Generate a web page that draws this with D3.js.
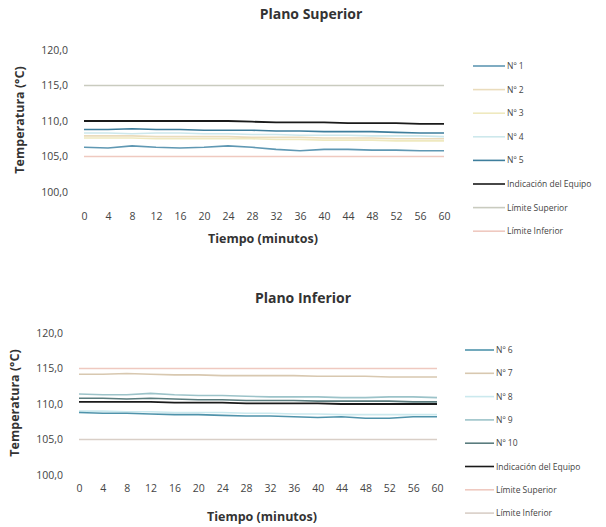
<!DOCTYPE html>
<html>
<head>
<meta charset="utf-8">
<script src="https://cdn.jsdelivr.net/npm/d3@7"></script>
<style>
  body { margin: 0; background: #fff; }
  svg text { font-family: "Open Sans", Lato, sans-serif; fill: #333; }
</style>
</head>
<body>
<svg id="chart" width="606" height="527"></svg>
<script>
// minutes sampled every 4
const minutes = [0, 4, 8, 12, 16, 20, 24, 28, 32, 36, 40, 44, 48, 52, 56, 60];
const yTicks = [100, 105, 110, 115, 120];

// Plano Superior
const supNames = ["Nº 1", "Nº 2", "Nº 3", "Nº 4", "Nº 5", "Indicación del Equipo", "Límite Superior", "Límite Inferior"];
const supColors = ["#5f98b3", "#eadcbc", "#efe9bf", "#cde8ec", "#3e7e9c", "#1a1a1a", "#c9cbbf", "#efc9c0"];
const sup1 = [106.3, 106.2, 106.5, 106.3, 106.2, 106.3, 106.5, 106.3, 106.0, 105.8, 106.0, 106.0, 105.9, 105.9, 105.8, 105.8];
const sup2 = [107.9, 107.9, 107.9, 107.8, 107.8, 107.8, 107.8, 107.7, 107.7, 107.7, 107.6, 107.6, 107.6, 107.5, 107.5, 107.5];
const sup3 = [107.6, 107.6, 107.6, 107.5, 107.5, 107.5, 107.5, 107.5, 107.4, 107.4, 107.3, 107.3, 107.3, 107.2, 107.2, 107.2];
const sup4 = [108.3, 108.3, 108.2, 108.3, 108.3, 108.2, 108.2, 108.1, 108.1, 108.0, 108.0, 108.0, 107.9, 107.9, 107.9, 107.8];
const sup5 = [108.8, 108.8, 108.9, 108.8, 108.8, 108.7, 108.7, 108.7, 108.6, 108.6, 108.5, 108.5, 108.5, 108.4, 108.3, 108.3];
const supInd = [110.0, 110.0, 110.0, 110.0, 110.0, 110.0, 110.0, 109.9, 109.8, 109.8, 109.8, 109.7, 109.7, 109.7, 109.6, 109.6];
const supLimSup = [115, 115, 115, 115, 115, 115, 115, 115, 115, 115, 115, 115, 115, 115, 115, 115];
const supLimInf = [105, 105, 105, 105, 105, 105, 105, 105, 105, 105, 105, 105, 105, 105, 105, 105];

// Plano Inferior
const infNames = ["Nº 6", "Nº 7", "Nº 8", "Nº 9", "Nº 10", "Indicación del Equipo", "Límite Superior", "Límite Inferior"];
const infColors = ["#4f93ab", "#d8c8b0", "#cbe9ee", "#9cc3c9", "#5a7c7e", "#1a1a1a", "#efc9c0", "#d9cfc7"];
const inf6 = [108.8, 108.7, 108.7, 108.6, 108.5, 108.5, 108.4, 108.3, 108.3, 108.2, 108.1, 108.2, 108.0, 108.0, 108.2, 108.2];
const inf7 = [114.2, 114.2, 114.3, 114.2, 114.1, 114.1, 114.0, 114.0, 114.0, 114.0, 113.9, 113.9, 113.9, 113.8, 113.8, 113.8];
const inf8 = [109.0, 109.0, 108.9, 108.9, 108.8, 108.8, 108.8, 108.7, 108.7, 108.6, 108.6, 108.5, 108.5, 108.5, 108.5, 108.5];
const inf9 = [111.4, 111.3, 111.3, 111.5, 111.3, 111.2, 111.2, 111.1, 111.0, 111.0, 111.0, 110.9, 110.9, 111.0, 111.0, 110.9];
const inf10 = [110.8, 110.8, 110.7, 110.8, 110.7, 110.6, 110.6, 110.5, 110.5, 110.5, 110.4, 110.4, 110.4, 110.4, 110.3, 110.3];
const infInd = [110.3, 110.3, 110.3, 110.3, 110.2, 110.2, 110.2, 110.1, 110.1, 110.1, 110.1, 110.0, 110.0, 110.0, 110.0, 110.0];
const infLimSup = [115, 115, 115, 115, 115, 115, 115, 115, 115, 115, 115, 115, 115, 115, 115, 115];
const infLimInf = [105, 105, 105, 105, 105, 105, 105, 105, 105, 105, 105, 105, 105, 105, 105, 105];

const svg = d3.select("#chart");
const fmt = d3.formatLocale({decimal: ",", thousands: ".", grouping: [3], currency: ["", ""]}).format(".1f");

function drawPanel(opts) {
    const x = d3.scaleLinear().domain([0, 60]).range(opts.xRange);
    const y = d3.scaleLinear().domain([100, 120]).range(opts.yRange);

    // title
    svg.append("text")
        .attr("x", opts.titleX).attr("y", opts.titleY)
        .attr("text-anchor", "middle")
        .style("font-size", "14px").style("font-weight", "bold")
        .style("font-style", opts.italic ? "italic" : "normal")
        .text(opts.title);

    // y axis (labels only)
    const yAxis = svg.append("g")
        .attr("transform", `translate(${opts.yLabelX},0)`)
        .call(d3.axisLeft(y).tickValues(yTicks).tickFormat(fmt).tickSize(0).tickPadding(0));
    yAxis.select(".domain").remove();
    yAxis.selectAll("text").style("font-size", "10.5px").style("fill", "#444");

    // x axis (labels only)
    const xAxis = svg.append("g")
        .attr("transform", `translate(0,${opts.xLabelY})`)
        .call(d3.axisBottom(x).tickValues(minutes).tickSize(0).tickPadding(0));
    xAxis.select(".domain").remove();
    xAxis.selectAll("text").style("font-size", "10.5px").style("fill", "#444");

    // axis titles
    svg.append("text")
        .attr("x", opts.xTitleX).attr("y", opts.xTitleY)
        .attr("text-anchor", "middle")
        .style("font-size", "12.5px").style("font-weight", "bold")
        .text("Tiempo (minutos)");
    svg.append("text")
        .attr("transform", `translate(${opts.yTitleX},${opts.yTitleY}) rotate(-90)`)
        .attr("text-anchor", "middle")
        .style("font-size", "12.5px").style("font-weight", "bold")
        .text("Temperatura (°C)");

    // lines (drawn light first so the dark ones sit on top)
    const line = d3.line().x((d, i) => x(minutes[i])).y(d => y(d));
    opts.drawOrder.forEach(k => {
        svg.append("path")
            .datum(opts.series[k])
            .attr("fill", "none")
            .attr("stroke", opts.colors[k])
            .attr("stroke-width", opts.colors[k] === "#1a1a1a" ? 1.8 : 1.6)
            .attr("d", line);
    });

    // legend
    opts.names.forEach((name, k) => {
        const ly = opts.legendY + k * opts.legendStep;
        svg.append("line")
            .attr("x1", opts.legendX).attr("x2", opts.legendX + opts.legendLen)
            .attr("y1", ly).attr("y2", ly)
            .attr("stroke", opts.colors[k]).attr("stroke-width", 1.6);
        svg.append("text")
            .attr("x", opts.legendX + opts.legendLen + 2).attr("y", ly + 3)
            .style("font-size", "8.5px").style("fill", "#444")
            .text(name);
    });
}

drawPanel({
    title: "Plano Superior", titleX: 311, titleY: 19, italic: false,
    xRange: [84, 444], yRange: [192, 50], xLabelY: 213, yLabelX: 68,
    xTitleX: 263, xTitleY: 243, yTitleX: 24, yTitleY: 120,
    series: [sup1, sup2, sup3, sup4, sup5, supInd, supLimSup, supLimInf],
    colors: supColors, names: supNames,
    drawOrder: [6, 7, 1, 2, 3, 0, 4, 5],
    legendX: 473, legendLen: 32, legendY: 66, legendStep: 23.6
});

drawPanel({
    title: "Plano Inferior", titleX: 303, titleY: 303, italic: false,
    xRange: [79, 437], yRange: [475, 333], xLabelY: 485, yLabelX: 63,
    xTitleX: 262, xTitleY: 521, yTitleX: 19, yTitleY: 403,
    series: [inf6, inf7, inf8, inf9, inf10, infInd, infLimSup, infLimInf],
    colors: infColors, names: infNames,
    drawOrder: [6, 7, 1, 2, 3, 0, 4, 5],
    legendX: 465, legendLen: 29, legendY: 350, legendStep: 23.3
});
</script>
</body>
</html>
